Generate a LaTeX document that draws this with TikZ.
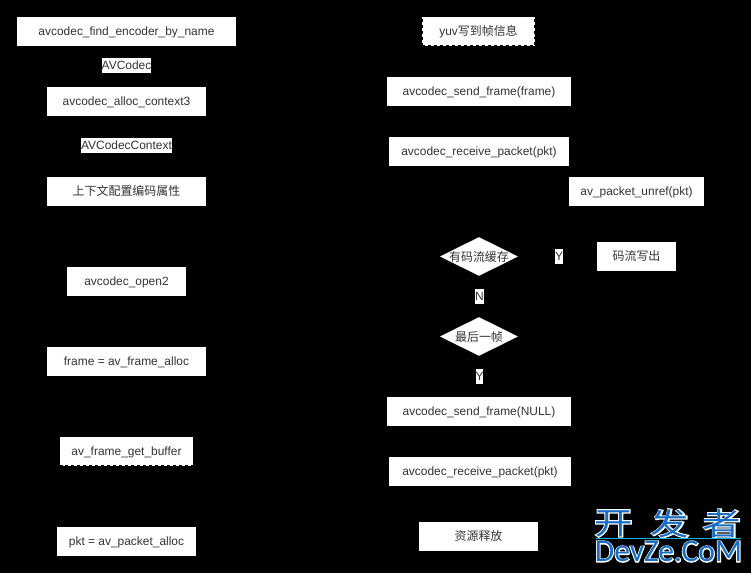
\documentclass[tikz,border=0pt]{standalone}
\usepackage{fontspec}
\setmainfont{Liberation Sans}
\newfontfamily\cjk{Noto Sans CJK SC}
\newfontfamily\markcjk[FakeStretch=1.25]{Noto Sans CJK SC}
\newfontfamily\markhalocjk[FakeStretch=1.25,FakeBold=7]{Noto Sans CJK SC}
\newfontfamily\marklat{Carlito}
\newfontfamily\markhalolat[FakeBold=6]{Carlito}
\usetikzlibrary{shapes.geometric}
\definecolor{markblue}{RGB}{22,110,200}

\begin{document}
\begin{tikzpicture}[
    x=0.02cm, y=-0.02cm,
    zone/.style={fill=white, text=black!80, minimum height=0.58cm, inner sep=0pt, text height=6.5pt, text depth=2pt, align=center, font=\fontsize{6.8}{8}\selectfont},
    dashzone/.style={zone, draw=black, dash pattern=on 1.7pt off 1.7pt, line width=0.57pt},
    choice/.style={diamond, aspect=2, fill=white, text=black!80, minimum width=1.56cm, minimum height=0.78cm, inner sep=-6pt, font=\fontsize{6.8}{8}\selectfont},
    lbl/.style={fill=white, text=black!80, inner xsep=0pt, inner ysep=0pt, minimum height=0.3cm, text height=6.5pt, text depth=2pt, font=\fontsize{6.8}{8}\selectfont}
]
    % 背景
    \fill[black] (0, 0) rectangle (751, 573);
    \useasboundingbox (0, 0) rectangle (751, 573);

    % 左列
    \node[zone, minimum width=4.38cm] (findenc) at (126.5, 31.5) {avcodec\_find\_encoder\_by\_name};
    \node[lbl] (codec) at (126.5, 66) {AVCodec};
    \node[zone, minimum width=3.18cm] (allocctx) at (126.5, 101.5) {avcodec\_alloc\_context3};
    \node[lbl] (codecctx) at (126.5, 146) {AVCodecContext};
    \node[zone, minimum width=3.18cm] (ctxcfg) at (126.5, 191.5) {\cjk 上下文配置编码属性};
    \node[zone, minimum width=2.38cm] (open) at (126.5, 281.5) {avcodec\_open2};
    \node[zone, minimum width=3.18cm] (framealloc) at (126.5, 361.5) {frame = av\_frame\_alloc};
    \node[dashzone, minimum width=2.68cm] (getbuf) at (126.5, 451.5) {av\_frame\_get\_buffer};
    \node[zone, minimum width=2.78cm] (pktalloc) at (126.5, 541.5) {pkt = av\_packet\_alloc};

    % 右列
    \node[dashzone, minimum width=2.26cm] (yuv) at (478.5, 31.5) {yuv{\cjk 写到帧信息}};
    \node[zone, minimum width=3.68cm] (sendframe) at (479, 91.5) {avcodec\_send\_frame(frame)};
    \node[zone, minimum width=3.6cm] (recvpkt) at (479, 151.5) {avcodec\_receive\_packet(pkt)};
    \node[zone, minimum width=2.7cm] (unref) at (636.5, 191.5) {av\_packet\_unref(pkt)};

    % 判断
    \node[choice] (hasbuf) at (479, 256.5) {\cjk 有码流缓存};
    \node[lbl] (yes1) at (559, 256.5) {Y};
    \node[zone, minimum width=1.58cm] (write) at (636.5, 256.5) {\cjk 码流写出};
    \node[lbl] (no1) at (479.5, 296.5) {N};
    \node[choice] (last) at (479, 336.5) {\cjk 最后一帧};
    \node[lbl] (yes2) at (479.5, 376.5) {Y};

    % 收尾
    \node[zone, minimum width=3.68cm] (sendnull) at (479, 411.5) {avcodec\_send\_frame(NULL)};
    \node[zone, minimum width=3.64cm] (recvlast) at (480, 471.5) {avcodec\_receive\_packet(pkt)};
    \node[zone, minimum width=2.38cm] (release) at (478.5, 536.5) {\cjk 资源释放};

    % 水印
    \foreach \i/\ch/\xx in {1/开/613.5, 2/发/670, 3/者/722} {
        \node[white, font=\fontsize{17.5}{20}\markhalocjk] (halo\i) at (\xx, 523.5) {\ch};
        \node[markblue, font=\fontsize{17.5}{20}\markcjk] (mark\i) at (\xx, 523.5) {\ch};
    }
    \fill[markblue!50!cyan] (596, 538) rectangle (741, 539);
    \node[white, font=\fontsize{18}{20}\markhalolat] (halolat) at (668.5, 551.5) {DevZe.CoM};
    \node[markblue, font=\fontsize{18}{20}\marklat] (marklat) at (668.5, 551.5) {DevZe.CoM};
\end{tikzpicture}
\end{document}
